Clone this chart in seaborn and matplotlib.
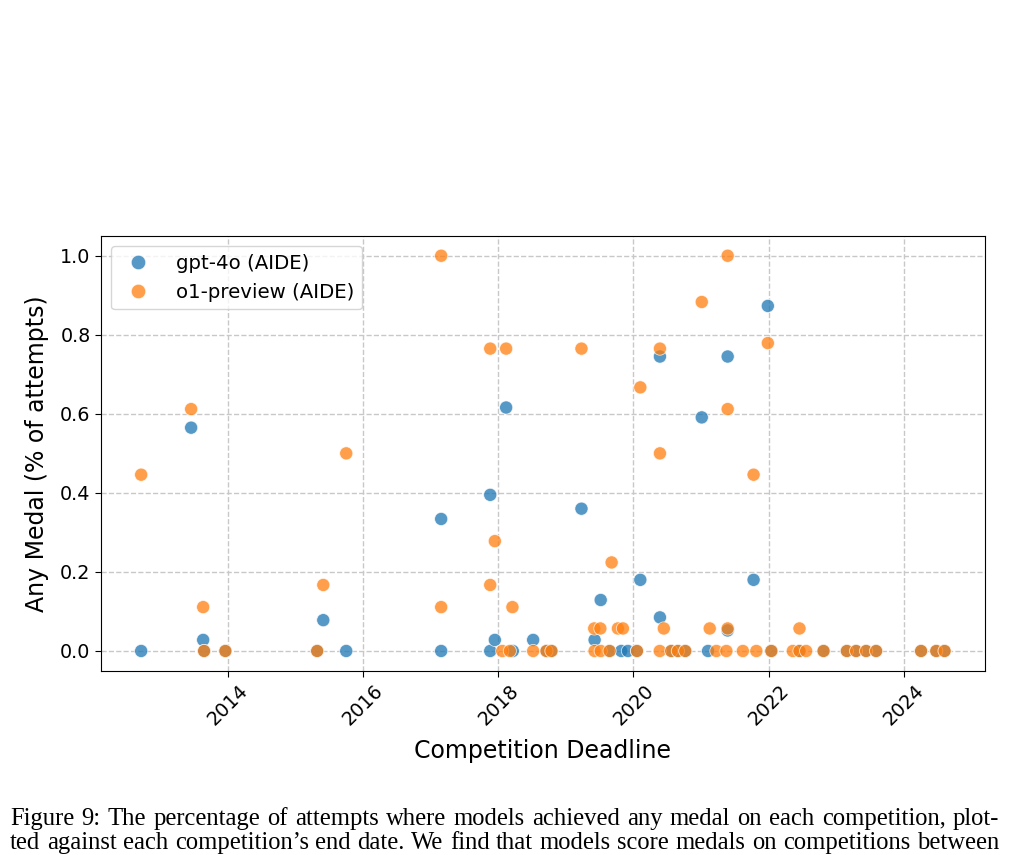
import matplotlib
matplotlib.use("Agg")
import matplotlib.pyplot as plt
import matplotlib.dates as mdates
import seaborn as sns
import pandas as pd

# ---- data ----
gpt4o_dates = [
    "2012-09-19", "2013-06-16", "2013-08-20", "2013-08-25", "2013-12-18",
    "2015-04-28", "2015-05-31", "2015-10-02", "2017-02-26", "2017-02-26",
    "2017-11-18", "2017-11-18", "2017-12-13", "2018-02-12", "2018-03-20",
    "2018-07-08", "2018-09-18", "2018-10-15", "2019-03-26", "2019-06-05",
    "2019-07-08", "2019-08-25", "2019-10-27", "2019-12-02", "2020-01-20",
    "2020-02-07", "2020-05-23", "2020-05-23", "2020-07-23", "2020-08-28",
    "2020-10-07", "2021-01-04", "2021-02-07", "2021-05-24", "2021-05-24",
    "2021-10-11", "2021-12-27", "2022-01-15", "2022-06-16", "2022-10-24",
    "2023-02-27", "2023-04-18", "2023-06-11", "2023-08-04", "2024-04-03",
    "2024-06-24", "2024-08-08",
]
gpt4o_vals = [
    0.0, 0.565, 0.028, 0.0, 0.0,
    0.0, 0.078, 0.0, 0.334, 0.0,
    0.395, 0.0, 0.028, 0.616, 0.0,
    0.028, 0.0, 0.0, 0.36, 0.028,
    0.129, 0.0, 0.0, 0.0, 0.0,
    0.18, 0.085, 0.745, 0.0, 0.0,
    0.0, 0.591, 0.0, 0.745, 0.052,
    0.18, 0.873, 0.0, 0.0, 0.0,
    0.0, 0.0, 0.0, 0.0, 0.0,
    0.0, 0.0,
]

o1_dates = [
    "2012-09-19", "2013-06-16", "2013-08-20", "2013-08-25", "2013-12-18",
    "2015-04-28", "2015-05-31", "2015-10-02", "2017-02-26", "2017-02-26",
    "2017-11-18", "2017-11-18", "2017-12-13", "2018-01-22", "2018-02-12",
    "2018-03-04", "2018-03-18", "2018-07-08", "2018-09-18", "2018-10-15",
    "2019-03-26", "2019-06-03", "2019-07-06", "2019-06-05", "2019-07-08",
    "2019-08-25", "2019-09-05", "2019-10-09", "2019-11-05", "2020-01-20",
    "2020-02-07", "2020-05-23", "2020-05-23", "2020-05-22", "2020-06-13",
    "2020-07-23", "2020-08-28", "2020-10-07", "2021-01-04", "2021-02-16",
    "2021-03-24", "2021-05-17", "2021-05-24", "2021-05-24", "2021-05-24",
    "2021-08-14", "2021-10-11", "2021-10-26", "2021-12-27", "2022-01-15",
    "2022-05-11", "2022-06-16", "2022-07-22", "2022-06-16", "2022-10-24",
    "2023-02-27", "2023-04-18", "2023-06-11", "2023-08-04", "2024-04-03",
    "2024-06-24", "2024-08-08",
]
o1_vals = [
    0.446, 0.612, 0.111, 0.0, 0.0,
    0.0, 0.167, 0.5, 1.0, 0.111,
    0.765, 0.167, 0.278, 0.0, 0.765,
    0.0, 0.111, 0.0, 0.0, 0.0,
    0.765, 0.057, 0.057, 0.0, 0.0,
    0.0, 0.224, 0.057, 0.057, 0.0,
    0.667, 0.765, 0.5, 0.0, 0.057,
    0.0, 0.0, 0.0, 0.883, 0.057,
    0.0, 0.0, 1.0, 0.612, 0.057,
    0.0, 0.446, 0.0, 0.779, 0.0,
    0.0, 0.0, 0.0, 0.057, 0.0,
    0.0, 0.0, 0.0, 0.0, 0.0,
    0.0, 0.0,
]

series_names = ["gpt-4o (AIDE)", "o1-preview (AIDE)"]
series_colors = ["#1f77b4", "#ff7f0e"]

caption_lines = [
    "Figure 9: The percentage of attempts where models achieved any medal on each competition, plot-",
    "ted against each competition\u2019s end date. We find that models score medals on competitions between",
]

df = pd.concat([
    pd.DataFrame({"date": pd.to_datetime(gpt4o_dates), "value": gpt4o_vals, "model": series_names[0]}),
    pd.DataFrame({"date": pd.to_datetime(o1_dates), "value": o1_vals, "model": series_names[1]}),
], ignore_index=True)

W, H = 1010, 855
fig = plt.figure(figsize=(W / 100, H / 100), dpi=100)
ax = fig.add_axes([0.100, 0.2155, 0.875, 0.5085])

sns.scatterplot(
    data=df, x="date", y="value", hue="model",
    palette=dict(zip(series_names, series_colors)),
    s=90, alpha=0.75, edgecolor="white", linewidth=0.6, ax=ax, zorder=3,
)

ax.set_ylim(-0.05, 1.05)
ax.set_yticks([0.0, 0.2, 0.4, 0.6, 0.8, 1.0])
ax.xaxis.set_major_locator(mdates.YearLocator(2))
ax.xaxis.set_major_formatter(mdates.DateFormatter("%Y"))
ax.grid(True, linestyle="--", color="#c8c8c8", linewidth=1.0)
ax.set_axisbelow(True)

for lbl in ax.get_xticklabels():
    lbl.set_rotation(45)
    lbl.set_ha("center")
ax.tick_params(axis="both", labelsize=13.8, length=4)
ax.set_xlabel("Competition Deadline", fontsize=17, labelpad=7)
ax.set_ylabel("Any Medal (% of attempts)", fontsize=17, labelpad=8)

leg = ax.legend(loc="upper left", fontsize=14.2, title=None, markerscale=1.1,
                handletextpad=0.9, framealpha=0.8)

# ---- justified caption ----
renderer = fig.canvas.get_renderer()
x_left, x_right = 10, 999
baselines = [825, 849]
for line, yb in zip(caption_lines, baselines):
    words = line.split(" ")
    texts = [fig.text(0, 1 - yb / H, w, ha="left", va="baseline",
                      fontsize=17.7, family="Liberation Serif") for w in words]
    widths = [t.get_window_extent(renderer=renderer).width for t in texts]
    gap = (x_right - x_left - sum(widths)) / (len(words) - 1)
    x = x_left
    for t, w in zip(texts, widths):
        t.set_x(x / W)
        x += w + gap

fig.savefig("out.png", dpi=100)
